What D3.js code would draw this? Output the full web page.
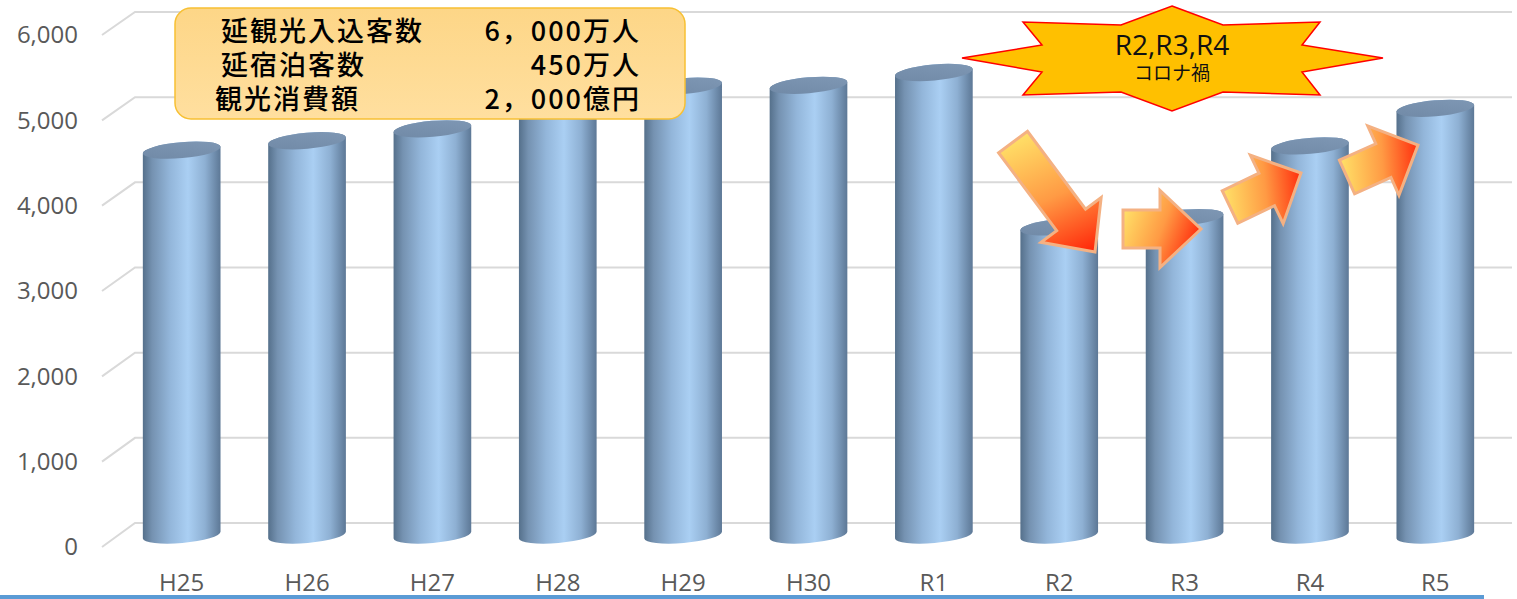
<!DOCTYPE html>
<html>
<head>
<meta charset="utf-8">
<script src="https://cdn.jsdelivr.net/npm/d3@7"></script>
<style>
  body { margin: 0; background: #fff; }
  svg { display: block; }
</style>
</head>
<body>
<div id="chart"></div>
<script>
// 年度別 延観光入込客数（万人）
const categories = ["H25", "H26", "H27", "H28", "H29", "H30", "R1", "R2", "R3", "R4", "R5"];
const visitors = [4510, 4620, 4760, 5010, 5260, 5270, 5420, 3610, 3720, 4560, 5000];
const yTicks = [0, 1000, 2000, 3000, 4000, 5000, 6000];

const targetLabels = ["延観光入込客数", "延宿泊客数", "観光消費額"];
const targetValues = ["6，000万人", "450万人", "2，000億円"];
const burstLines = ["R2,R3,R4", "コロナ禍"];

const width = 1517;
const height = 599;

const svg = d3.select("#chart")
    .append("svg")
    .attr("width", width)
    .attr("height", height);

const defs = svg.append("defs");

// scales: front plane (labels), mid depth (cylinders), back wall (gridlines)
const yFront = d3.scaleLinear().domain([0, 6000]).range([547, 35]);
const yMid = d3.scaleLinear().domain([0, 6000]).range([535, 23]);
const yBack = d3.scaleLinear().domain([0, 6000]).range([523, 12]);

const x = d3.scaleBand()
    .domain(categories)
    .range([119, 1498])
    .paddingInner(0.378)
    .paddingOuter(0.189);

// gridlines
const grid = svg.append("g").attr("stroke", "#d9d9d9").attr("stroke-width", 2).attr("fill", "none");
grid.selectAll("path")
    .data(yTicks)
    .enter()
    .append("path")
    .attr("d", d => "M102," + yFront(d) + "L135," + yBack(d) + "H1512");

// y axis
const yAxis = d3.axisLeft(yFront)
    .tickValues(yTicks)
    .tickFormat(d3.format(","))
    .tickSize(0)
    .tickPadding(0);

svg.append("g")
    .attr("transform", "translate(78,0)")
    .call(yAxis)
    .call(g => g.select(".domain").remove())
    .selectAll("text")
    .attr("fill", "#595959")
    .style("font-family", "'Open Sans', sans-serif")
    .style("font-size", "24px");

// x axis
const xAxis = d3.axisBottom(x).tickSize(0).tickPadding(0);
svg.append("g")
    .attr("transform", "translate(0,574)")
    .call(xAxis)
    .call(g => g.select(".domain").remove())
    .selectAll("text")
    .attr("fill", "#595959")
    .style("font-family", "'Open Sans', sans-serif")
    .style("font-size", "24px");

// cylinder gradients
const body = defs.append("linearGradient").attr("id", "cylBody");
[[0, "#55708b"], [0.12, "#7592b1"], [0.35, "#93b6da"], [0.58, "#aacff3"], [0.8, "#8eb0d3"], [1, "#5d7896"]]
    .forEach(s => body.append("stop").attr("offset", s[0]).attr("stop-color", s[1]));

const topFill = defs.append("linearGradient").attr("id", "cylTop").attr("x1", 0).attr("y1", 1).attr("x2", 1).attr("y2", 0);
topFill.append("stop").attr("offset", 0).attr("stop-color", "#7089a6");
topFill.append("stop").attr("offset", 1).attr("stop-color", "#7f98b5");

const tilt = -5;
const ry = 8;
const rad = tilt * Math.PI / 180;

const bars = svg.append("g")
    .selectAll("g")
    .data(categories.map((c, i) => ({ cat: c, value: visitors[i] })))
    .enter()
    .append("g");

bars.append("path")
    .attr("fill", "url(#cylBody)")
    .attr("d", d => {
        const rx = x.bandwidth() / 2;
        const cx = x(d.cat) + rx;
        const dx = rx * Math.cos(rad), dy = -rx * Math.sin(rad);
        const ty = yMid(d.value), by = yMid(0);
        return "M" + (cx - dx) + "," + (ty + dy) +
            "L" + (cx - dx) + "," + (by + dy) +
            "A" + rx + "," + ry + " " + tilt + " 0 0 " + (cx + dx) + "," + (by - dy) +
            "L" + (cx + dx) + "," + (ty - dy) +
            "A" + rx + "," + ry + " " + tilt + " 0 0 " + (cx - dx) + "," + (ty + dy) + "Z";
    });

bars.append("ellipse")
    .attr("fill", "url(#cylTop)")
    .attr("cx", 0).attr("cy", 0)
    .attr("rx", x.bandwidth() / 2)
    .attr("ry", ry)
    .attr("transform", d => "translate(" + (x(d.cat) + x.bandwidth() / 2) + "," + yMid(d.value) + ") rotate(" + tilt + ")");

// target box
const boxFill = defs.append("linearGradient").attr("id", "boxFill").attr("x1", 0).attr("y1", 0).attr("x2", 0).attr("y2", 1);
boxFill.append("stop").attr("offset", 0).attr("stop-color", "#fdd687");
boxFill.append("stop").attr("offset", 1).attr("stop-color", "#ffdf9f");

svg.append("rect")
    .attr("x", 175).attr("y", 8)
    .attr("width", 510).attr("height", 111)
    .attr("rx", 16)
    .attr("fill", "url(#boxFill)")
    .attr("stroke", "#f7c033")
    .attr("stroke-width", 1.5);

const rowBase = [41, 75, 109];
const rowX = [221, 221, 215];

const boxStyle = sel => sel
    .style("font-family", "'Noto Sans CJK JP', sans-serif")
    .style("font-size", "27px")
    .style("font-weight", 500)
    .style("letter-spacing", "2px")
    .attr("fill", "#000");

const labelText = svg.append("text").call(boxStyle);
labelText.selectAll("tspan")
    .data(targetLabels)
    .enter()
    .append("tspan")
    .attr("x", (d, i) => rowX[i])
    .attr("y", (d, i) => rowBase[i])
    .text(d => d);

const valueText = svg.append("text").call(boxStyle).attr("text-anchor", "end");
valueText.selectAll("tspan")
    .data(targetValues)
    .enter()
    .append("tspan")
    .attr("x", 641)
    .attr("y", (d, i) => rowBase[i])
    .text(d => d);

// starburst
const burst = [[1172, 6], [1223, 25], [1320, 22], [1302, 45], [1383, 58], [1302, 72], [1320, 95],
    [1223, 92], [1172, 111], [1121, 92], [1023, 95], [1042, 72], [962, 58], [1042, 45], [1023, 22], [1121, 25]];

svg.append("path")
    .attr("d", d3.line()(burst) + "Z")
    .attr("fill", "#ffc000")
    .attr("stroke", "#ff0000")
    .attr("stroke-width", 1.5)
    .attr("stroke-linejoin", "miter");

const burstText = svg.append("text")
    .attr("text-anchor", "middle")
    .attr("fill", "#111");
burstText.append("tspan")
    .attr("x", 1172).attr("y", 55)
    .style("font-family", "'Open Sans', sans-serif")
    .style("font-size", "28px")
    .text(burstLines[0]);
burstText.append("tspan")
    .attr("x", 1172).attr("y", 80)
    .style("font-family", "'Noto Sans CJK JP', sans-serif")
    .style("font-size", "19px")
    .text(burstLines[1]);

// block arrows: tail centre, tip, shaft width, head width, head length
const arrows = [
    { tail: [1013, 142], tip: [1095, 252], sw: 36, hw: 75, hl: 40 },
    { tail: [1123, 229], tip: [1201, 229], sw: 38, hw: 77, hl: 41 },
    { tail: [1230, 207], tip: [1301, 173], sw: 36, hw: 76, hl: 38 },
    { tail: [1347, 177], tip: [1418, 145], sw: 37, hw: 76, hl: 38 }
];

arrows.forEach((a, i) => {
    const vx = a.tip[0] - a.tail[0], vy = a.tip[1] - a.tail[1];
    const len = Math.hypot(vx, vy);
    const ux = vx / len, uy = vy / len;
    const px = -uy, py = ux;
    const pt = (along, side) => [a.tail[0] + ux * along + px * side, a.tail[1] + uy * along + py * side];
    const neck = len - a.hl;
    const pts = [pt(0, -a.sw / 2), pt(neck, -a.sw / 2), pt(neck, -a.hw / 2), pt(len, 0),
        pt(neck, a.hw / 2), pt(neck, a.sw / 2), pt(0, a.sw / 2)];

    const g = defs.append("linearGradient")
        .attr("id", "arrowGrad" + i)
        .attr("gradientUnits", "userSpaceOnUse")
        .attr("x1", a.tail[0] - px * a.sw * 0.4).attr("y1", a.tail[1] - py * a.sw * 0.4)
        .attr("x2", a.tip[0] + px * a.sw * 0.4).attr("y2", a.tip[1] + py * a.sw * 0.4);
    g.append("stop").attr("offset", 0).attr("stop-color", "#ffe067");
    g.append("stop").attr("offset", 0.5).attr("stop-color", "#ff9a44");
    g.append("stop").attr("offset", 1).attr("stop-color", "#ff1e05");

    svg.append("path")
        .attr("d", d3.line()(pts) + "Z")
        .attr("fill", "url(#arrowGrad" + i + ")")
        .attr("stroke", "#f4b183")
        .attr("stroke-width", 3)
        .attr("stroke-linejoin", "miter");
});

// bottom rule
svg.append("rect")
    .attr("x", 0).attr("y", 595)
    .attr("width", 1484).attr("height", 4)
    .attr("fill", "#5b9bd5");
</script>
</body>
</html>
